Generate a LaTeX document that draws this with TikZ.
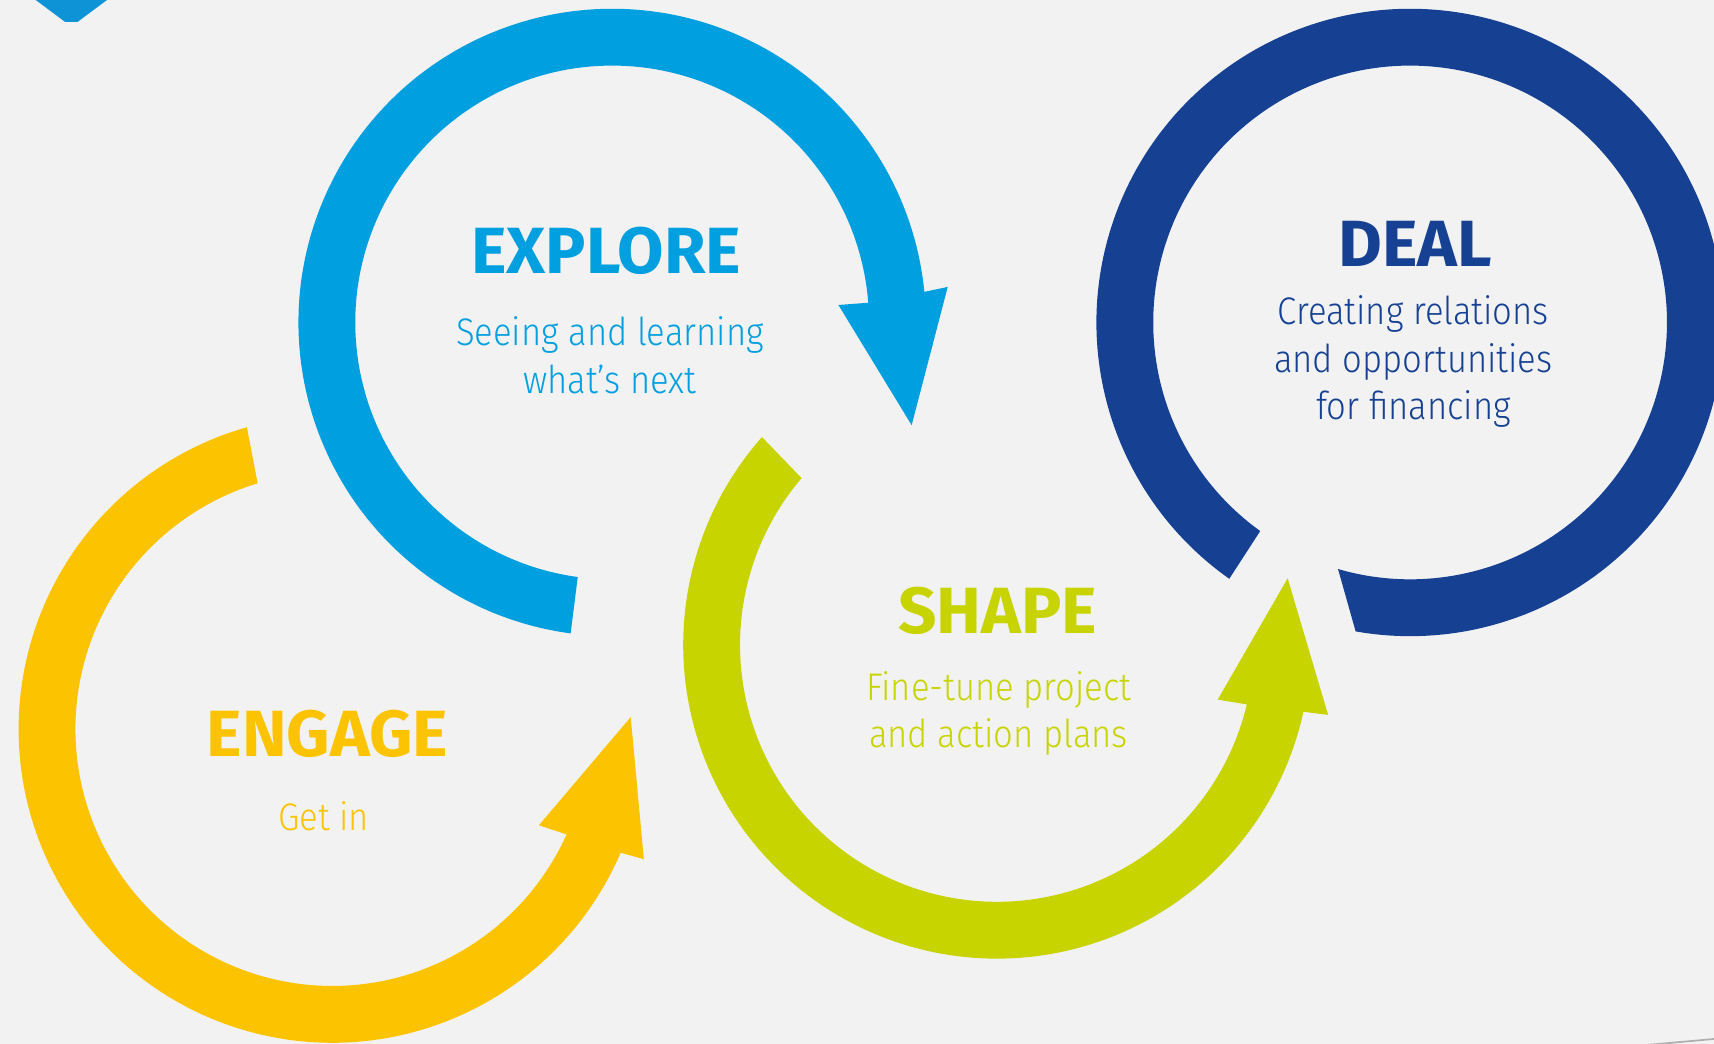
\documentclass[tikz,border=0pt]{standalone}
\usepackage{fontspec}
\setmainfont{Fira Sans}
\newfontfamily\titlefont{Fira Sans}[FakeStretch=1.03]
\newfontfamily\bodyfont{Fira Sans}[UprightFont=* Light, FakeStretch=0.9]
\definecolor{cBlue}{RGB}{0,159,223}
\definecolor{cCorner}{RGB}{14,148,214}
\definecolor{cNavy}{RGB}{22,65,146}
\definecolor{cLime}{RGB}{200,212,0}
\definecolor{cYellow}{RGB}{252,196,0}
\definecolor{cBg}{RGB}{242,242,242}
\definecolor{cEdge}{RGB}{175,175,175}
\tikzset{
  title/.style={font=\titlefont\fontsize{17}{19}\selectfont\bfseries, inner sep=0pt, anchor=base},
  body/.style={font=\bodyfont\fontsize{10}{12.4}\selectfont, align=center, inner sep=0pt, anchor=base},
  ringplot/.style={samples=160, smooth}
}
\begin{document}
\begin{tikzpicture}[x=0.01cm, y=-0.01cm]
\useasboundingbox (0,0) rectangle (1568,955);
\fill[cBg] (0,0) rectangle (1568,955);
\begin{scope}
\clip (0,0) rectangle (1568,955);
% top-left corner piece
\fill[cCorner] (30,-2) -- (59.5,20) -- (71,20) -- (100.6,-2) -- cycle;
% bottom-right edge line
\draw[cEdge, line width=0.45pt] (1495,957) -- (1570,950.3);
% ENGAGE arrow (yellow)
\fill[cYellow] plot[ringplot, domain=254.2:23.2] ({304+287*cos(\x)},{667+287*sin(\x)})
  -- (589,786) -- (577,656) -- (493,755)
  -- plot[ringplot, domain=24.2:253.1] ({304+235*cos(\x)},{667+235*sin(\x)}) -- cycle;
% EXPLORE arrow (blue)
\fill[cBlue] plot[ringplot, domain=97.6:354.4] ({560+287*cos(\x)},{295+287*sin(\x)})
  -- (867,262.5) -- (834,389) -- (767,279)
  -- plot[ringplot, domain=355.6:97.7] ({560+235*cos(\x)},{295+235*sin(\x)}) -- cycle;
% SHAPE arrow (lime)
\fill[cLime] plot[ringplot, domain=221.5:12.3] ({912+287*cos(\x)},{590+287*sin(\x)})
  -- (1215,654) -- (1178,529) -- (1114,640)
  -- plot[ringplot, domain=13.4:220.5] ({912+235*cos(\x)},{590+235*sin(\x)}) -- cycle;
% DEAL ring (navy)
\fill[cNavy] plot[ringplot, domain=100:-234.8] ({1290+287*cos(\x)},{295+287*sin(\x)})
  -- plot[ringplot, domain=-234.3:106.3] ({1290+235*cos(\x)},{295+235*sin(\x)}) -- cycle;
\end{scope}
% texts (multi-line nodes: base = baseline of last line)
\node[title, text=cBlue] (explore) at (554.5,250) {EXPLORE};
\node[body, text=cBlue] (exploretxt) at (558,360) {Seeing and learning\\what’s next};
\node[title, text=cNavy] (deal) at (1294.5,244) {DEAL};
\node[body, text=cNavy] (dealtxt) at (1293,384) {Creating relations\\and opportunities\\for financing};
\node[title, text=cLime] (shape) at (912.5,580) {SHAPE};
\node[body, text=cLime] (shapetxt) at (913.5,684) {Fine-tune project\\and action plans};
\node[title, text=cYellow] (engage) at (299.5,692.5) {ENGAGE};
\node[body, text=cYellow] (engagetxt) at (296,759.5) {Get in};
\end{tikzpicture}
\end{document}
